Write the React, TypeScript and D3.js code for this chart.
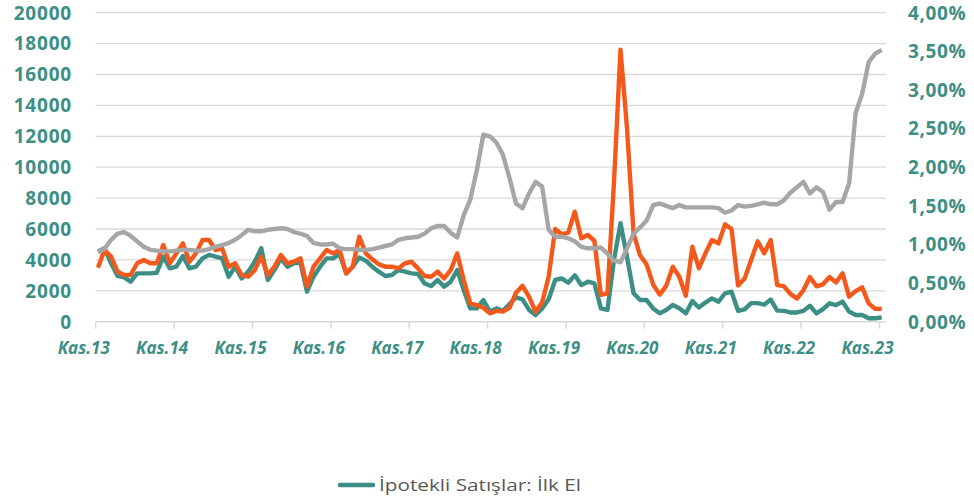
import React, { useEffect } from 'react';
import * as d3 from 'd3';

// monthly data, Kas.13 .. Kas.23
const ilkEl = [
  4530, 4750, 3780, 2960, 2870, 2590, 3130, 3130, 3130, 3170, 4210, 3450,
  3560, 4250, 3450, 3560, 4100, 4320, 4210, 4100, 2910, 3560, 2800, 3240,
  3880, 4750, 2700, 3340, 4100, 3560, 3780, 3820, 1940, 2910, 3560, 4100,
  4100, 4380, 3130, 3560, 4160, 3950, 3560, 3240, 2960, 3020, 3340, 3240,
  3130, 3090, 2480, 2310, 2700, 2270, 2590, 3340, 2050, 860, 860, 1400,
  650, 860, 710, 1140, 1580, 1450, 760, 430, 860, 1450, 2700, 2800,
  2520, 3000, 2370, 2590, 2480, 860, 760, 4000, 6370, 4200, 1840, 1400,
  1400, 860, 540, 760, 1080, 870, 540, 1340, 920, 1240, 1510, 1290,
  1840, 1940, 700, 800, 1200, 1200, 1100, 1430, 720, 700, 600, 600,
  700, 1030, 540, 810, 1190, 1080, 1300, 650, 430, 430, 220, 220,
  280,
];

const ikinciEl = [
  3500, 4640, 4210, 3240, 3020, 3020, 3780, 3990, 3780, 3780, 4960, 3780,
  4420, 5070, 3880, 4420, 5290, 5290, 4640, 4750, 3560, 3780, 3020, 2910,
  3340, 4210, 3020, 3560, 4320, 3780, 3880, 4100, 2270, 3560, 4100, 4640,
  4420, 4640, 3130, 3560, 5500, 4420, 4040, 3710, 3560, 3560, 3450, 3780,
  3880, 3450, 2960, 2910, 3240, 2800, 3340, 4420, 2700, 1190, 1080, 900,
  540, 700, 650, 900, 1880, 2320, 1600, 650, 1250, 2910, 6000, 5660,
  5770, 7120, 5400, 5610, 5240, 1730, 1830, 9000, 17600, 12500, 5700, 4300,
  3700, 2400, 1750, 2320, 3560, 2910, 1680, 4850, 3450, 4430, 5290, 5070,
  6300, 6000, 2350, 2800, 4000, 5200, 4430, 5290, 2370, 2300, 1800, 1500,
  2030, 2890, 2290, 2420, 2890, 2540, 3130, 1620, 1980, 2220, 1190, 830,
  840,
];

// percent, right axis
const faiz = [
  0.90, 0.94, 1.06, 1.14, 1.16, 1.11, 1.04, 0.97, 0.93, 0.92, 0.91, 0.91,
  0.92, 0.93, 0.93, 0.92, 0.92, 0.94, 0.97, 0.99, 1.02, 1.06, 1.12, 1.19,
  1.17, 1.17, 1.19, 1.20, 1.21, 1.20, 1.16, 1.14, 1.11, 1.02, 1.00, 1.00,
  1.01, 0.95, 0.94, 0.94, 0.93, 0.93, 0.94, 0.96, 0.98, 1.00, 1.06, 1.08,
  1.09, 1.10, 1.14, 1.21, 1.24, 1.24, 1.15, 1.09, 1.38, 1.58, 1.96, 2.42,
  2.40, 2.32, 2.16, 1.86, 1.53, 1.47, 1.66, 1.81, 1.75, 1.19, 1.10, 1.10,
  1.08, 1.04, 0.97, 0.95, 0.95, 0.96, 0.88, 0.79, 0.77, 0.95, 1.14, 1.22,
  1.31, 1.51, 1.53, 1.50, 1.47, 1.51, 1.48, 1.48, 1.48, 1.48, 1.48, 1.47,
  1.41, 1.44, 1.51, 1.49, 1.50, 1.52, 1.54, 1.52, 1.52, 1.57, 1.67, 1.74,
  1.81, 1.66, 1.74, 1.68, 1.45, 1.55, 1.55, 1.79, 2.70, 2.95, 3.36, 3.47,
  3.52,
];

const xTickLabels = ['Kas.13', 'Kas.14', 'Kas.15', 'Kas.16', 'Kas.17', 'Kas.18', 'Kas.19', 'Kas.20', 'Kas.21', 'Kas.22', 'Kas.23'];
const leftTicks = [0, 2000, 4000, 6000, 8000, 10000, 12000, 14000, 16000, 18000, 20000];
const rightTicks = [0, 0.5, 1, 1.5, 2, 2.5, 3, 3.5, 4];

const TEAL = '#3d8f86';
const ORANGE = '#f4581b';
const GRAY = '#a6a6a6';
const GRID = '#d9d9d9';
const FONT = '"Open Sans", "Liberation Sans", sans-serif';

export default function App() {
  useEffect(() => {
    document.body.style.margin = '0';
  }, []);

  const width = 974;
  const height = 498;

  const x = d3.scaleLinear().domain([0, 121]).range([95.7, 886]);
  const y = d3.scaleLinear().domain([0, 20000]).range([321.7, 12.7]);
  const y2 = d3.scaleLinear().domain([0, 4]).range([321.7, 12.7]);

  const off = 0.35; // points sit a bit after the month tick
  const lineL = d3.line<number>().x((_, i) => x(i + off)).y((d) => y(d));
  const lineR = d3.line<number>().x((_, i) => x(i + off)).y((d) => y2(d));

  const pct = (v: number) => d3.format('.2f')(v).replace('.', ',') + '%';

  return (
    <svg width={width} height={height} style={{ display: 'block', background: '#fff' }}>
      {/* grid */}
      {leftTicks.slice(1).map((t) => (
        <line key={t} x1={x(0)} x2={x(121)} y1={y(t)} y2={y(t)} stroke={GRID} strokeWidth={1.3} />
      ))}
      {/* x axis */}
      <line x1={x(0)} x2={x(121)} y1={y(0)} y2={y(0)} stroke={GRID} strokeWidth={1.5} />
      {xTickLabels.map((lab, k) => (
        <line key={lab} x1={x(k * 12)} x2={x(k * 12)} y1={y(0)} y2={y(0) + 7} stroke={GRID} strokeWidth={1.5} />
      ))}

      {/* left labels */}
      {leftTicks.map((t) => (
        <text key={t} x={72} y={y(t)} dy="0.36em" textAnchor="end" fill={TEAL}
          fontFamily={FONT} fontWeight={700} fontSize={19} letterSpacing={0.8}>
          {t}
        </text>
      ))}
      {/* right labels */}
      {rightTicks.map((t) => (
        <text key={t} x={908} y={y2(t)} dy="0.36em" textAnchor="start" fill={TEAL}
          fontFamily={FONT} fontWeight={700} fontSize={19} letterSpacing={0.6}>
          {pct(t)}
        </text>
      ))}
      {/* month labels, under the ticks where the slanted labels sit */}
      {xTickLabels.map((lab, k) => (
        <text key={lab} x={x(k * 12) - 12} y={348} textAnchor="middle" dy="0.35em" fill={TEAL}
          fontFamily={FONT} fontWeight={700} fontStyle="italic" fontSize={17}>
          {lab}
        </text>
      ))}

      {/* series */}
      <path d={lineL(ilkEl) || ''} fill="none" stroke={TEAL} strokeWidth={4.4} strokeLinejoin="round" />
      <path d={lineL(ikinciEl) || ''} fill="none" stroke={ORANGE} strokeWidth={4.4} strokeLinejoin="round" />
      <path d={lineR(faiz) || ''} fill="none" stroke={GRAY} strokeWidth={4.4} strokeLinejoin="round" />

      {/* legend */}
      <line x1={340} x2={373} y1={485} y2={485} stroke={TEAL} strokeWidth={4.5} strokeLinecap="round" />
      <text x={379} y={491} fill="#595959" fontFamily={FONT} fontSize={17}
        textLength={202} lengthAdjust="spacingAndGlyphs">
        İpotekli Satışlar: İlk El
      </text>
    </svg>
  );
}
